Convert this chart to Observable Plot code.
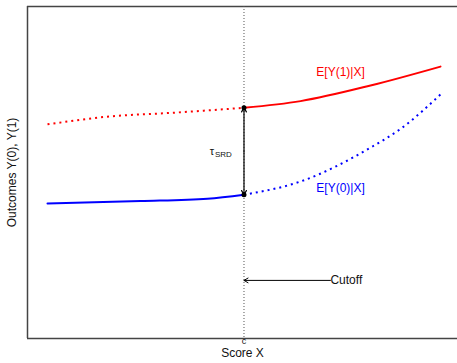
<!DOCTYPE html>
<html>
<head>
<meta charset="utf-8">
<script src="https://cdn.jsdelivr.net/npm/d3@7"></script>
<script src="https://cdn.jsdelivr.net/npm/@observablehq/plot@0.6"></script>
<style>
  html, body { margin: 0; padding: 0; background: #fff; }
  #chart { width: 457px; height: 363px; overflow: hidden; }
</style>
</head>
<body>
<div id="chart"></div>
<script>
// Sharp regression discontinuity: potential outcome curves around the cutoff c
const cutoff = 0.5;

// E[Y(1)|X]: counterfactual (dotted) left of c, observed (solid) right of c
const y1LeftX  = [0, 0.16, 0.32, 0.5];
const y1LeftY  = [6.45, 6.69, 6.80, 6.95];
const y1RightX = [0.5, 0.644, 0.822, 1.0];
const y1RightY = [6.95, 7.15, 7.62, 8.19];

// E[Y(0)|X]: observed (solid) left of c, counterfactual (dotted) right of c
const y0LeftX  = [0, 0.237, 0.407, 0.5];
const y0LeftY  = [4.07, 4.14, 4.21, 4.33];
const y0RightX = [0.5, 0.644, 0.822, 0.898, 1.0];
const y0RightY = [4.33, 4.73, 5.75, 6.31, 7.35];

const curveLabels = ["E[Y(1)|X]", "E[Y(0)|X]"];
const cutoffLabel = "Cutoff";
const xTitle = "Score X";
const yTitle = "Outcomes Y(0), Y(1)";

const pts = (xs, ys) => xs.map((x, i) => ({x, y: ys[i]}));

const top1 = y1RightY[0];
const bot0 = y0RightY[0];
const mid = (top1 + bot0) / 2;

const font = "'Liberation Sans', Arial, Helvetica, sans-serif";
const frameColor = "#444";
const dotted = {strokeWidth: 2, strokeDasharray: "2,4", strokeLinecap: "butt"};

const chart = Plot.plot({
  width: 457,
  height: 363,
  marginLeft: 27,
  marginRight: 0,
  marginTop: 6,
  marginBottom: 25,
  style: {fontFamily: font, fontSize: "12px", background: "#fff", overflow: "visible"},
  x: {domain: [-0.0509, 1.0433], axis: null},
  y: {domain: [0, 10], axis: null},
  marks: [
    // box (left, bottom, top)
    Plot.ruleY([0, 10], {stroke: frameColor, strokeWidth: 1.5}),
    Plot.ruleX([-0.0509], {stroke: frameColor, strokeWidth: 1.5}),
    // cutoff line
    Plot.ruleX([cutoff], {stroke: "#555", strokeWidth: 1, strokeDasharray: "1,2"}),
    // curves
    Plot.line(pts(y1LeftX, y1LeftY), {x: "x", y: "y", stroke: "red", ...dotted, curve: "monotone-x"}),
    Plot.line(pts(y1RightX, y1RightY), {x: "x", y: "y", stroke: "red", strokeWidth: 2, curve: "monotone-x"}),
    Plot.line(pts(y0LeftX, y0LeftY), {x: "x", y: "y", stroke: "blue", strokeWidth: 2, curve: "monotone-x"}),
    Plot.line(pts(y0RightX, y0RightY), {x: "x", y: "y", stroke: "blue", ...dotted, curve: "monotone-x"}),
    // treatment effect at the cutoff
    Plot.arrow([{y2: top1}, {y2: bot0}], {x1: cutoff, x2: cutoff, y1: mid, y2: "y2", stroke: "black", strokeWidth: 1.2, headLength: 6}),
    Plot.dot([top1, bot0], {x: cutoff, y: d => d, r: 2.5, fill: "black"}),
    Plot.text(["τ"], {x: cutoff, y: mid, text: d => d, dx: -30, textAnchor: "end", fontSize: 11, fill: "#111"}),
    Plot.text(["SRD"], {x: cutoff, y: mid, text: d => d, dx: -29, dy: 3, textAnchor: "start", fontSize: 8, fill: "#111"}),
    // curve labels
    Plot.text([curveLabels[0]], {x: 0.684, y: 8.01, text: d => d, textAnchor: "start", fill: "red", fontSize: 12}),
    Plot.text([curveLabels[1]], {x: 0.684, y: 4.52, text: d => d, textAnchor: "start", fill: "blue", fontSize: 12}),
    // cutoff annotation
    Plot.arrow([cutoffLabel], {x1: 0.72, x2: cutoff, y1: 1.75, y2: 1.75, stroke: "black", strokeWidth: 1, headLength: 7}),
    Plot.text([cutoffLabel], {x: 0.72, y: 1.75, text: d => d, textAnchor: "start", fontSize: 12, fill: "#111"}),
    // axis labels
    Plot.text(["c"], {x: cutoff, frameAnchor: "bottom", text: d => d, dy: 5, fontSize: 9, fill: "#111"}),
    Plot.text([xTitle], {frameAnchor: "bottom", text: d => d, dy: 18, fontSize: 12, fill: "#111"}),
    Plot.text([yTitle], {frameAnchor: "left", text: d => d, rotate: -90, textAnchor: "middle", dx: -15, fontSize: 12, fill: "#111"})
  ]
});

document.getElementById("chart").appendChild(chart);
</script>
</body>
</html>
